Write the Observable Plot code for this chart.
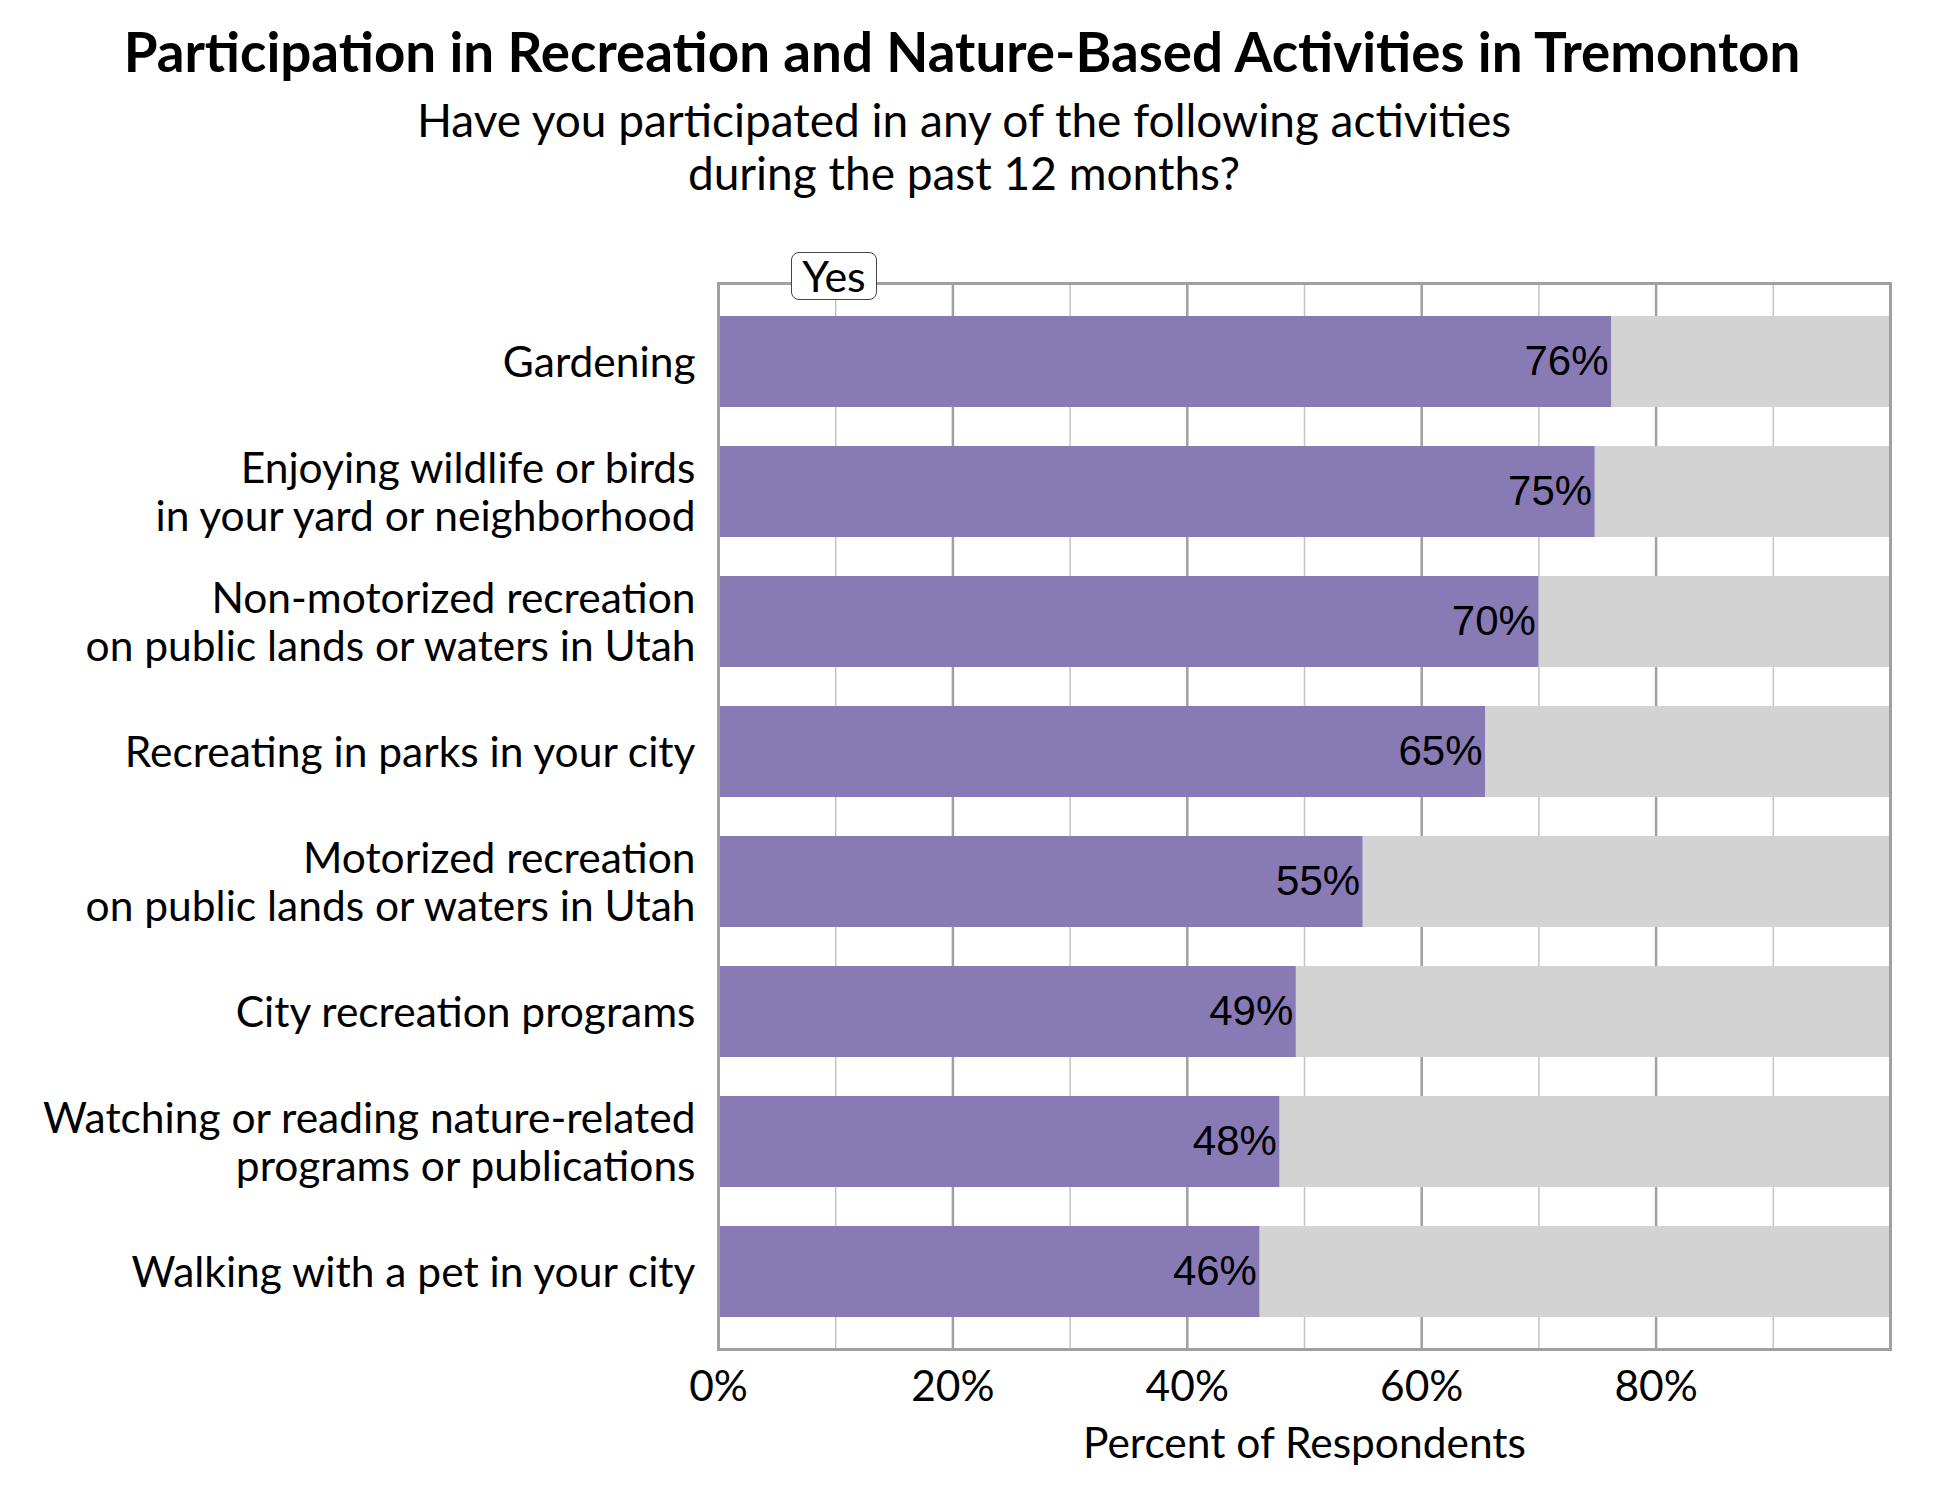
<!DOCTYPE html>
<html>
<head>
<meta charset="utf-8">
<script src="https://cdn.jsdelivr.net/npm/d3@7"></script>
<script src="https://cdn.jsdelivr.net/npm/@observablehq/plot@0.6"></script>
<style>
  body { margin: 0; background: #fff; }
  #wrap { position: relative; width: 1950px; height: 1500px; font-family: Lato, sans-serif; color: #000; }
  #title { position: absolute; left: 0; width: 1924px; top: 19px; text-align: center; font-weight: bold; font-size: 54.7px; line-height: 1.2; }
  #subtitle { position: absolute; left: 0; width: 1928px; top: 93px; text-align: center; font-size: 46px; line-height: 53px; }
  #chart { position: absolute; left: 0; top: 0; }
  #legend { position: absolute; left: 791px; top: 252px; width: 86px; height: 48px; box-sizing: border-box;
            border: 1.5px solid #444; border-radius: 8px; background: #fff; font-size: 43px; line-height: 46px; text-align: center; }
</style>
</head>
<body>
<div id="wrap">
  <div id="chart"></div>
  <div id="title">Participation in Recreation and Nature-Based Activities in Tremonton</div>
  <div id="subtitle">Have you participated in any of the following activities<br>during the past 12 months?</div>
  <div id="legend">Yes</div>
</div>
<script>
const categories = [
  "Gardening",
  "Enjoying wildlife or birds\nin your yard or neighborhood",
  "Non-motorized recreation\non public lands or waters in Utah",
  "Recreating in parks in your city",
  "Motorized recreation\non public lands or waters in Utah",
  "City recreation programs",
  "Watching or reading nature-related\nprograms or publications",
  "Walking with a pet in your city"
];
const yesValues = [76.2, 74.8, 70.0, 65.45, 55.0, 49.3, 47.9, 46.2];
const total = 100;
const xTicks = [0, 20, 40, 60, 80];
const majorGrid = [20, 40, 60, 80];
const minorGrid = [10, 30, 50, 70, 90];

const data = categories.map((c, i) => ({category: c, yes: yesValues[i], total}));

const chart = Plot.plot({
  width: 1950,
  height: 1500,
  marginTop: 283,
  marginBottom: 151,
  marginLeft: 718,
  marginRight: 60,
  style: {fontFamily: "Lato, sans-serif", fontSize: "42px", color: "#000", background: "transparent"},
  x: {domain: [0, 100]},
  y: {domain: categories, paddingInner: 0.3, paddingOuter: 0.25},
  marks: [
    Plot.ruleX(minorGrid, {stroke: "#c4c4c4", strokeWidth: 1.5}),
    Plot.ruleX(majorGrid, {stroke: "#a0a0a0", strokeWidth: 2.5}),
    Plot.barX(data, {y: "category", x1: "yes", x2: "total", fill: "#d3d3d3"}),
    Plot.barX(data, {y: "category", x1: 0, x2: "yes", fill: "#877ab5"}),
    Plot.text(data, {y: "category", x: "yes", text: d => Math.round(d.yes) + "%", textAnchor: "end", dx: -3,
      fontFamily: "Liberation Sans, Arial, sans-serif", fontSize: 42, fill: "#000"}),
    Plot.axisY({tickSize: 0, tickPadding: 23, fontSize: 42.5, lineHeight: 1.13, label: null, fill: "#000"}),
    Plot.axisX({ticks: xTicks, tickSize: 0, tickPadding: 21, tickFormat: d => d + "%", fontSize: 42.5, fill: "#000",
      label: "Percent of Respondents", labelAnchor: "center", labelArrow: "none", labelOffset: 108}),
    Plot.frame({stroke: "#a0a0a0", strokeWidth: 3})
  ]
});
document.getElementById("chart").appendChild(chart);
</script>
</body>
</html>
